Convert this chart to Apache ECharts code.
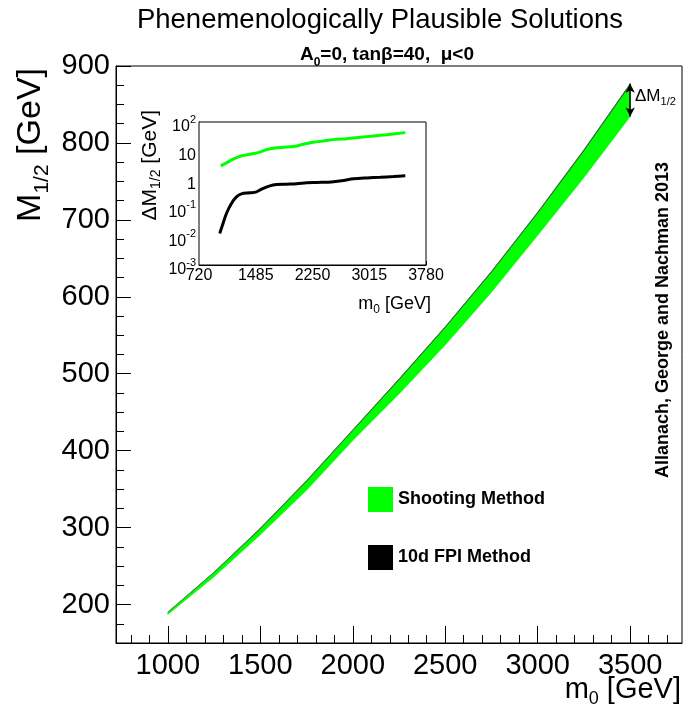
<!DOCTYPE html>
<html>
<head>
<meta charset="utf-8">
<script src="https://cdn.jsdelivr.net/npm/echarts@6/dist/echarts.min.js"></script>
<style>
  html, body { margin: 0; padding: 0; background: #fff; }
  #main { width: 683px; height: 709px; }
</style>
</head>
<body>
<div id="main"></div>
<script>
// band in the main plot (m0 in GeV)
const bandM0 = [1000, 1250, 1500, 1750, 2000, 2250, 2500, 2750, 3000, 3250, 3500]
const bandUpper = [190, 242, 299, 361, 427, 493, 561, 633, 710, 791, 877]
const shootWidth = [2.9, 6.0, 8.4, 12.4, 13.9, 19.3, 23.5, 27, 30, 36, 42.5]
const fpiWidth = [0.013, 0.27, 0.36, 0.64, 0.69, 0.77, 0.80, 0.95, 1.11, 1.2, 1.31]

// inset: delta M1/2 vs m0
const insetShootM0 = [1013, 1090, 1180, 1292, 1405, 1518, 1630, 1743, 1856, 1991, 2126, 2261, 2396, 2532, 2712, 2892, 3072, 3253, 3501]
const insetShoot = [2.92, 3.72, 4.99, 6.52, 7.45, 8.51, 10.8, 12.4, 13.1, 13.8, 16.6, 19.5, 21.7, 24.2, 26.2, 29.2, 32.5, 36.1, 42.5]
const insetFpiM0 = [999, 1044, 1090, 1157, 1225, 1292, 1405, 1495, 1563, 1675, 1766, 1901, 2036, 2171, 2306, 2441, 2532, 2667, 2802, 2982, 3163, 3343, 3501]
const insetFpi = [0.0127, 0.0284, 0.0634, 0.1416, 0.242, 0.308, 0.333, 0.361, 0.448, 0.585, 0.651, 0.669, 0.688, 0.745, 0.765, 0.786, 0.807, 0.898, 1.03, 1.11, 1.17, 1.24, 1.31]

// ticks
const mainXTicks = [1000, 1500, 2000, 2500, 3000, 3500]
const mainXMinor = [800, 900, 1100, 1200, 1300, 1400, 1600, 1700, 1800, 1900, 2100, 2200, 2300, 2400, 2600, 2700, 2800, 2900, 3100, 3200, 3300, 3400, 3600, 3700]
const mainYTicks = [200, 300, 400, 500, 600, 700, 800, 900]
const mainYMinor = [175, 225, 250, 275, 325, 350, 375, 425, 450, 475, 525, 550, 575, 625, 650, 675, 725, 750, 775, 825, 850, 875]
const insetXTicks = [720, 1485, 2250, 3015, 3780]
const insetYTicks = [0.001, 0.01, 0.1, 1, 10, 100]
const insetYMinor = [0.002, 0.003, 0.004, 0.005, 0.006, 0.007, 0.008, 0.009,
  0.02, 0.03, 0.04, 0.05, 0.06, 0.07, 0.08, 0.09,
  0.2, 0.3, 0.4, 0.5, 0.6, 0.7, 0.8, 0.9,
  2, 3, 4, 5, 6, 7, 8, 9,
  20, 30, 40, 50, 60, 70, 80, 90]

const FONT = 'Liberation Sans, Arial, Helvetica, sans-serif'
const GREEN = '#00ff00'

let shootLower = bandUpper.map((u, i) => u - shootWidth[i])
let fpiLower = bandUpper.map((u, i) => u - fpiWidth[i])
let last = bandM0.length - 1

let chart = echarts.init(document.getElementById('main'), null, { renderer: 'canvas' })

const logLabel = (v) => {
  let e = Math.round(Math.log10(v))
  if (e === 0) return '{b|1}'
  if (e === 1) return '{b|10}'
  return '{b|10}{p|' + e + '}'
}

// one polygon per band: upper edge forward, lower edge back
const bandRenderer = (upper, lower, fill, stroke, lw) => (params, api) => {
  if (params.dataIndex !== 0) return null
  let pts = []
  for (let i = 0; i < bandM0.length; i++) pts.push(api.coord([bandM0[i], upper[i]]))
  for (let i = bandM0.length - 1; i >= 0; i--) pts.push(api.coord([bandM0[i], lower[i]]))
  return {
    type: 'polygon',
    shape: { points: pts },
    style: { fill: fill, stroke: stroke, lineWidth: lw }
  }
}

const mainAxisCommon = {
  type: 'value',
  gridIndex: 0,
  splitLine: { show: false },
  axisLine: { show: true, onZero: false, lineStyle: { color: '#000', width: 1 } }
}

let option = {
  animation: false,
  backgroundColor: '#fff',
  textStyle: { fontFamily: FONT },
  grid: [
    { left: 116, top: 66, right: 1, bottom: 66, show: true, borderColor: '#000', borderWidth: 1, containLabel: false },
    { left: 199, top: 122, width: 227, height: 143, show: true, borderColor: '#000', borderWidth: 1, backgroundColor: '#fff', containLabel: false, z: 5 }
  ],
  xAxis: [
    Object.assign({}, mainAxisCommon, {
      min: 720, max: 3780, position: 'bottom',
      axisTick: { inside: true, length: 17, customValues: mainXTicks, lineStyle: { color: '#000' } },
      axisLabel: { customValues: mainXTicks, fontSize: 29, color: '#000', margin: 8, fontFamily: FONT, formatter: v => String(v) }
    }),
    Object.assign({}, mainAxisCommon, {
      min: 720, max: 3780, position: 'bottom',
      axisLine: { show: false },
      axisTick: { inside: true, length: 8, customValues: mainXMinor, lineStyle: { color: '#000' } },
      axisLabel: { show: false }
    }),
    {
      type: 'value', gridIndex: 1, min: 720, max: 3780, position: 'bottom',
      splitLine: { show: false },
      axisLine: { show: true, onZero: false, lineStyle: { color: '#000' } },
      axisTick: { inside: true, length: 4, customValues: insetXTicks, lineStyle: { color: '#000' } },
      axisLabel: { customValues: insetXTicks, fontSize: 16, color: '#000', margin: 3, fontFamily: FONT, formatter: v => String(v) }
    }
  ],
  yAxis: [
    Object.assign({}, mainAxisCommon, {
      min: 150, max: 900, position: 'left',
      axisTick: { inside: true, length: 15, customValues: mainYTicks, lineStyle: { color: '#000' } },
      axisLabel: { customValues: mainYTicks, fontSize: 29, color: '#000', margin: 6, fontFamily: FONT, formatter: v => String(v) }
    }),
    Object.assign({}, mainAxisCommon, {
      min: 150, max: 900, position: 'left',
      axisLine: { show: false },
      axisTick: { inside: true, length: 8, customValues: mainYMinor, lineStyle: { color: '#000' } },
      axisLabel: { show: false }
    }),
    {
      type: 'log', logBase: 10, gridIndex: 1, min: 0.001, max: 100, position: 'left',
      splitLine: { show: false },
      axisLine: { show: true, onZero: false, lineStyle: { color: '#000' } },
      axisTick: { inside: true, length: 7, customValues: insetYTicks, lineStyle: { color: '#000' } },
      axisLabel: {
        customValues: insetYTicks, margin: 3, color: '#000',
        formatter: logLabel,
        rich: {
          b: { fontSize: 16, lineHeight: 16, verticalAlign: 'top', padding: [5, 0, 0, 0], fontFamily: FONT, color: '#000' },
          p: { fontSize: 11, lineHeight: 11, verticalAlign: 'top', fontFamily: FONT, color: '#000' }
        }
      }
    },
    {
      type: 'log', logBase: 10, gridIndex: 1, min: 0.001, max: 100, position: 'left',
      splitLine: { show: false },
      axisLine: { show: false },
      axisTick: { inside: true, length: 3.5, customValues: insetYMinor, lineStyle: { color: '#000' } },
      axisLabel: { show: false }
    }
  ],
  legend: {
    data: ['Shooting Method', '10d FPI Method'],
    orient: 'vertical',
    left: 368, top: 487,
    padding: 0,
    itemWidth: 25, itemHeight: 25, itemGap: 33,
    icon: 'rect',
    selectedMode: false,
    textStyle: { fontSize: 18, fontWeight: 'bold', color: '#000', fontFamily: FONT }
  },
  series: [
    {
      name: 'Shooting Method', type: 'custom', xAxisIndex: 0, yAxisIndex: 0,
      data: bandM0.map((m, i) => [m, bandUpper[i], shootLower[i]]),
      encode: { x: 0, y: [1, 2] },
      itemStyle: { color: GREEN },
      silent: true,
      renderItem: bandRenderer(bandUpper, shootLower, GREEN, GREEN, 0.6)
    },
    {
      name: '10d FPI Method', type: 'custom', xAxisIndex: 0, yAxisIndex: 0,
      data: bandM0.map((m, i) => [m, bandUpper[i], fpiLower[i]]),
      encode: { x: 0, y: [1, 2] },
      itemStyle: { color: '#000' },
      silent: true,
      renderItem: bandRenderer(bandUpper, fpiLower, '#000', '#666', 0.6)
    },
    {
      name: 'delta arrow', type: 'line', xAxisIndex: 0, yAxisIndex: 0,
      data: [[bandM0[last], bandUpper[last]], [bandM0[last], shootLower[last]]],
      symbol: 'none', silent: true,
      lineStyle: { width: 0, opacity: 0 },
      markLine: {
        silent: true,
        symbol: ['arrow', 'arrow'],
        symbolSize: [7, 9],
        label: { show: false },
        lineStyle: { color: '#000', width: 1.5, type: 'solid' },
        data: [[
          { coord: [bandM0[last], bandUpper[last]] },
          { coord: [bandM0[last], shootLower[last]] }
        ]]
      }
    },
    {
      name: 'inset shoot', type: 'line', xAxisIndex: 2, yAxisIndex: 2, z: 6,
      data: insetShootM0.map((m, i) => [m, insetShoot[i]]),
      smooth: 0.3, symbol: 'none', silent: true,
      lineStyle: { width: 3, color: GREEN }
    },
    {
      name: 'inset fpi', type: 'line', xAxisIndex: 2, yAxisIndex: 2, z: 6,
      data: insetFpiM0.map((m, i) => [m, insetFpi[i]]),
      smooth: 0.3, symbol: 'none', silent: true,
      lineStyle: { width: 3, color: '#000' }
    }
  ],
  graphic: [
    {
      type: 'text', x: 380, y: 20,
      style: { text: 'Phenemenologically Plausible Solutions', font: '27.5px ' + FONT, fill: '#000', textAlign: 'center', textVerticalAlign: 'middle' }
    },
    {
      type: 'text', x: 387, y: 55,
      style: {
        text: '{a|A}{s|0}{a|=0, tanβ=40,  μ<0}',
        textAlign: 'center', textVerticalAlign: 'middle',
        rich: {
          a: { fontSize: 19, fontWeight: 'bold', lineHeight: 19, verticalAlign: 'top', fontFamily: FONT, fill: '#000' },
          s: { fontSize: 12, fontWeight: 'bold', lineHeight: 12, verticalAlign: 'top', padding: [11, 0, 0, 0], fontFamily: FONT, fill: '#000' }
        }
      }
    },
    {
      type: 'text', x: 31, y: 68, rotation: Math.PI / 2,
      style: {
        text: '{a|M}{s|1/2}{a| [GeV]}',
        textAlign: 'right', textVerticalAlign: 'middle',
        rich: {
          a: { fontSize: 34, lineHeight: 34, verticalAlign: 'top', fontFamily: FONT, fill: '#000' },
          s: { fontSize: 21, lineHeight: 21, verticalAlign: 'top', padding: [18, 0, 0, 0], fontFamily: FONT, fill: '#000' }
        }
      }
    },
    {
      type: 'text', x: 681, y: 690,
      style: {
        text: '{a|m}{s|0}{a| [GeV]}',
        textAlign: 'right', textVerticalAlign: 'middle',
        rich: {
          a: { fontSize: 29, lineHeight: 29, verticalAlign: 'top', fontFamily: FONT, fill: '#000' },
          s: { fontSize: 18, lineHeight: 18, verticalAlign: 'top', padding: [15, 0, 0, 0], fontFamily: FONT, fill: '#000' }
        }
      }
    },
    {
      type: 'text', x: 663, y: 320, rotation: Math.PI / 2,
      style: { text: 'Allanach, George and Nachman 2013', font: 'bold 18px ' + FONT, fill: '#000', textAlign: 'center', textVerticalAlign: 'middle' }
    },
    {
      type: 'text', x: 635, y: 96,
      style: {
        text: '{a|ΔM}{s|1/2}',
        textAlign: 'left', textVerticalAlign: 'middle',
        rich: {
          a: { fontSize: 17, lineHeight: 17, verticalAlign: 'top', fontFamily: FONT, fill: '#000' },
          s: { fontSize: 11, lineHeight: 11, verticalAlign: 'top', padding: [9, 0, 0, 0], fontFamily: FONT, fill: '#000' }
        }
      }
    },
    {
      type: 'text', x: 150, y: 110, rotation: Math.PI / 2,
      style: {
        text: '{a|ΔM}{s|1/2}{a| [GeV]}',
        textAlign: 'right', textVerticalAlign: 'middle',
        rich: {
          a: { fontSize: 21, lineHeight: 21, verticalAlign: 'top', fontFamily: FONT, fill: '#000' },
          s: { fontSize: 14, lineHeight: 14, verticalAlign: 'top', padding: [10, 0, 0, 0], fontFamily: FONT, fill: '#000' }
        }
      }
    },
    {
      type: 'text', x: 431, y: 304,
      style: {
        text: '{a|m}{s|0}{a| [GeV]}',
        textAlign: 'right', textVerticalAlign: 'middle',
        rich: {
          a: { fontSize: 18, lineHeight: 18, verticalAlign: 'top', fontFamily: FONT, fill: '#000' },
          s: { fontSize: 12, lineHeight: 12, verticalAlign: 'top', padding: [9, 0, 0, 0], fontFamily: FONT, fill: '#000' }
        }
      }
    }
  ]
}

chart.setOption(option)
</script>
</body>
</html>
